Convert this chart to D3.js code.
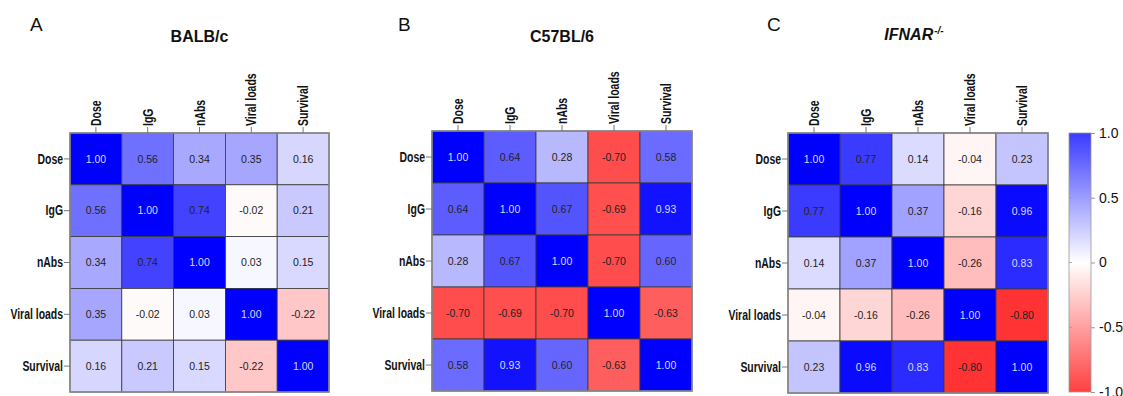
<!DOCTYPE html>
<html>
<head>
<meta charset="utf-8">
<script src="https://cdn.jsdelivr.net/npm/d3@7"></script>
<style>
  html, body { margin: 0; padding: 0; background: #fff; }
  svg { display: block; }
  .lab { font-family: "Liberation Sans", Arial, sans-serif; font-weight: bold; font-size: 14.5px; }
</style>
</head>
<body>
<svg id="chart" width="1123" height="396"></svg>
<script>
// ---------------- data ----------------
const variables = ["Dose", "IgG", "nAbs", "Viral loads", "Survival"];

const balbcValues = [
  [1.00, 0.56, 0.34, 0.35, 0.16],
  [0.56, 1.00, 0.74, -0.02, 0.21],
  [0.34, 0.74, 1.00, 0.03, 0.15],
  [0.35, -0.02, 0.03, 1.00, -0.22],
  [0.16, 0.21, 0.15, -0.22, 1.00]
];
const c57Values = [
  [1.00, 0.64, 0.28, -0.70, 0.58],
  [0.64, 1.00, 0.67, -0.69, 0.93],
  [0.28, 0.67, 1.00, -0.70, 0.60],
  [-0.70, -0.69, -0.70, 1.00, -0.63],
  [0.58, 0.93, 0.60, -0.63, 1.00]
];
const ifnarValues = [
  [1.00, 0.77, 0.14, -0.04, 0.23],
  [0.77, 1.00, 0.37, -0.16, 0.96],
  [0.14, 0.37, 1.00, -0.26, 0.83],
  [-0.04, -0.16, -0.26, 1.00, -0.80],
  [0.23, 0.96, 0.83, -0.80, 1.00]
];
const panelLetters = ["A", "B", "C"];
const panelTitles = ["BALB/c", "C57BL/6", "IFNAR"];
const colorbarTicks = [1, 0.5, 0, -0.5, -1];
const colorbarTickLabels = ["1.0", "0.5", "0", "-0.5", "-1.0"];

// ---------------- drawing ----------------
const svg = d3.select("#chart");
const color = d3.scaleLinear().domain([-1, 0, 1]).range(["#ff0000", "#ffffff", "#0000ff"]);
const fmt = v => d3.format(".2f")(v).replace("\u2212", "-");

// condense text horizontally (narrow font look)
function condense(sel, factor) {
  sel.each(function () {
    const w = this.getComputedTextLength();
    d3.select(this).attr("textLength", w * factor).attr("lengthAdjust", "spacingAndGlyphs");
  });
}

const panels = [
  { values: balbcValues, x0: 70,  y0: 133, size: 259, letterX: 30,  titleItalic: false },
  { values: c57Values,   x0: 432, y0: 131, size: 260, letterX: 398, titleItalic: false },
  { values: ifnarValues, x0: 788, y0: 133, size: 260, letterX: 767, titleItalic: true }
];

panels.forEach((p, pi) => {
  const g = svg.append("g");
  const x = d3.scaleBand().domain(variables).range([p.x0, p.x0 + p.size]);
  const y = d3.scaleBand().domain(variables).range([p.y0, p.y0 + p.size]);

  // panel letter
  g.append("text").attr("x", p.letterX).attr("y", 31)
    .style("font-family", "Liberation Sans, Arial, sans-serif")
    .style("font-size", "19px").attr("fill", "#111")
    .text(panelLetters[pi]);

  // title
  const title = g.append("text")
    .attr("x", p.x0 + p.size / 2 - (p.titleItalic ? 4 : 0))
    .attr("y", pi === 2 ? 40 : 42)
    .attr("text-anchor", "middle")
    .style("font-family", "Liberation Sans, Arial, sans-serif")
    .style("font-weight", "bold").style("font-size", "16px")
    .style("font-style", p.titleItalic ? "italic" : "normal")
    .attr("fill", "#111");
  title.append("tspan").text(panelTitles[pi]);
  if (p.titleItalic) {
    title.append("tspan").attr("dx", 1).attr("dy", -6).style("font-size", "10px").text("-/-");
  }

  const cells = [];
  p.values.forEach((row, i) => row.forEach((v, j) => cells.push({ r: variables[i], c: variables[j], v })));

  g.selectAll("rect.cell").data(cells).join("rect")
    .attr("class", "cell")
    .attr("x", d => x(d.c)).attr("y", d => y(d.r))
    .attr("width", x.bandwidth()).attr("height", y.bandwidth())
    .attr("fill", d => color(d.v))
    .attr("stroke", "#3a3a3a").attr("stroke-width", 0.8);

  g.selectAll("text.val").data(cells).join("text")
    .attr("class", "val")
    .attr("x", d => x(d.c) + x.bandwidth() / 2)
    .attr("y", d => y(d.r) + y.bandwidth() / 2)
    .attr("dy", "0.36em")
    .attr("text-anchor", "middle")
    .style("font-family", "Liberation Sans, Arial, sans-serif")
    .style("font-size", "10.5px")
    .attr("fill", d => d.v >= 0.8 ? "#d8d8ff" : "#222")
    .text(d => fmt(d.v));

  // outer border
  g.append("rect").attr("x", p.x0).attr("y", p.y0)
    .attr("width", p.size).attr("height", p.size)
    .attr("fill", "none").attr("stroke", "#8a8a8a").attr("stroke-width", 1.6);

  // column axis (top, rotated labels)
  const topAxis = g.append("g").attr("transform", `translate(0,${p.y0})`)
    .call(d3.axisTop(x).tickSize(6).tickPadding(2));
  topAxis.select(".domain").remove();
  topAxis.selectAll(".tick line").attr("stroke", "#777");
  topAxis.selectAll(".tick text")
    .attr("class", "lab").attr("fill", "#111")
    .attr("transform", "rotate(-90)")
    .attr("x", 7).attr("y", 0).attr("dy", "0.35em")
    .attr("text-anchor", "start")
    .call(condense, 0.72);

  // row axis (left)
  const leftAxis = g.append("g").attr("transform", `translate(${p.x0},0)`)
    .call(d3.axisLeft(y).tickSize(6).tickPadding(1));
  leftAxis.select(".domain").remove();
  leftAxis.selectAll(".tick line").attr("stroke", "#777");
  leftAxis.selectAll(".tick text").attr("class", "lab").attr("fill", "#111")
    .call(condense, 0.72);
});

// ---------------- colour bar ----------------
const cb = { x: 1069, w: 22, top: 133, bottom: 392 };
const cbScale = d3.scaleLinear().domain([-1, 1]).range([cb.bottom, cb.top]);
const cbColor = d3.scaleLinear().domain([-1, 0, 1]).range(["#ff4040", "#ffffff", "#3a3aff"]);
const defs = svg.append("defs");
const grad = defs.append("linearGradient").attr("id", "cbgrad")
  .attr("x1", 0).attr("y1", 1).attr("x2", 0).attr("y2", 0);
d3.range(-1, 1.0001, 0.25).forEach(v => {
  grad.append("stop").attr("offset", (v + 1) / 2).attr("stop-color", cbColor(v));
});
svg.append("rect").attr("x", cb.x).attr("y", cb.top)
  .attr("width", cb.w).attr("height", cb.bottom - cb.top)
  .attr("fill", "url(#cbgrad)").attr("stroke", "#999").attr("stroke-width", 0.8);

// inner small ticks on left edge
svg.append("g").selectAll("line").data(colorbarTicks.slice(1, 4)).join("line")
  .attr("x1", cb.x).attr("x2", cb.x + 3)
  .attr("y1", d => cbScale(d)).attr("y2", d => cbScale(d))
  .attr("stroke", "#999").attr("stroke-width", 0.8);

const cbAxis = svg.append("g").attr("transform", `translate(${cb.x + cb.w},0)`)
  .call(d3.axisRight(cbScale).tickValues(colorbarTicks)
    .tickFormat((d, i) => colorbarTickLabels[i]).tickSize(4).tickPadding(4));
cbAxis.select(".domain").remove();
cbAxis.selectAll(".tick line").attr("stroke", "#999");
cbAxis.selectAll(".tick text")
  .style("font-family", "Liberation Sans, Arial, sans-serif")
  .style("font-size", "14px").attr("fill", "#111");
</script>
</body>
</html>
